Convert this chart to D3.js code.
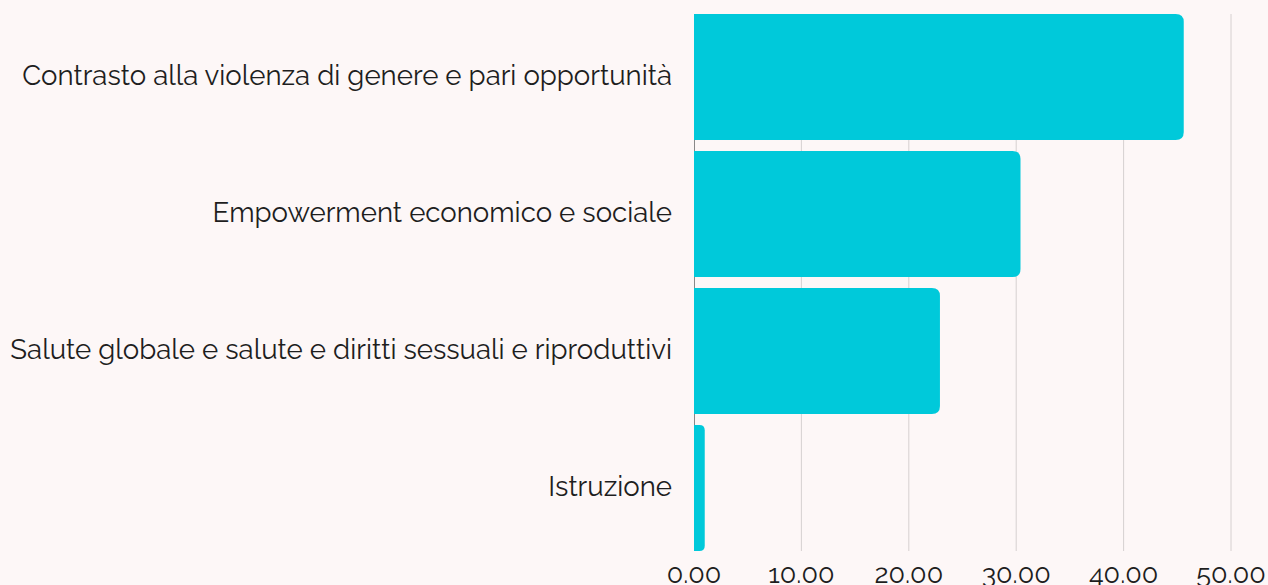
<!DOCTYPE html>
<html>
<head>
<meta charset="utf-8">
<script src="https://cdn.jsdelivr.net/npm/d3@7"></script>
<style>
  body { margin: 0; background: #fdf7f7; }
  svg { display: block; font-family: Raleway, Lato, "Open Sans", sans-serif; }
</style>
</head>
<body>
<svg id="chart" width="1268" height="585"></svg>
<script>
const categories = [
  'Contrasto alla violenza di genere e pari opportunità',
  'Empowerment economico e sociale',
  'Salute globale e salute e diritti sessuali e riproduttivi',
  'Istruzione'
];
const values = [45.6, 30.4, 22.9, 1.0];
const xTicks = [0, 10, 20, 30, 40, 50];

const margin = {top: 14, right: 37, bottom: 34, left: 694};
const svg = d3.select('#chart');
const width = +svg.attr('width') - margin.left - margin.right;
const height = +svg.attr('height') - margin.top - margin.bottom;

const g = svg.append('g').attr('transform', `translate(${margin.left}, ${margin.top})`);

const x = d3.scaleLinear().domain([0, 50]).range([0, width]);
const y = d3.scaleBand().domain(categories).range([0, height]).paddingInner(0.08).paddingOuter(0);

// grid
g.selectAll('.grid')
  .data(xTicks.slice(1))
  .enter().append('line')
    .attr('class', 'grid')
    .attr('x1', d => x(d)).attr('x2', d => x(d))
    .attr('y1', 0).attr('y2', height)
    .attr('stroke', '#d6d0d0')
    .attr('stroke-width', 1);

g.append('line')
  .attr('x1', 0.5).attr('x2', 0.5)
  .attr('y1', 0).attr('y2', height)
  .attr('stroke', '#888')
  .attr('stroke-width', 1);

// bars, rounded on the right end
function barPath(d, i) {
  const x0 = 0, x1 = x(values[i]);
  const y0 = y(d), y1 = y(d) + y.bandwidth();
  const r = Math.min(8, (x1 - x0) / 2);
  return `M${x0},${y0}H${x1 - r}Q${x1},${y0} ${x1},${y0 + r}V${y1 - r}Q${x1},${y1} ${x1 - r},${y1}H${x0}Z`;
}

g.selectAll('.bar')
  .data(categories)
  .enter().append('path')
    .attr('class', 'bar')
    .attr('d', barPath)
    .attr('fill', '#00c9da');

// category labels
g.selectAll('.label')
  .data(categories)
  .enter().append('text')
    .attr('class', 'label')
    .attr('x', -22)
    .attr('y', d => y(d) + y.bandwidth() / 2)
    .attr('dy', '0.28em')
    .attr('text-anchor', 'end')
    .attr('font-size', 27.6)
    .attr('fill', '#1e1e1e')
    .text(d => d);

// x axis labels
g.selectAll('.tick-label')
  .data(xTicks)
  .enter().append('text')
    .attr('class', 'tick-label')
    .attr('x', d => x(d))
    .attr('y', height + 32)
    .attr('text-anchor', 'middle')
    .attr('font-size', 27)
    .attr('fill', '#1e1e1e')
    .text(d => d.toFixed(2));
</script>
</body>
</html>
